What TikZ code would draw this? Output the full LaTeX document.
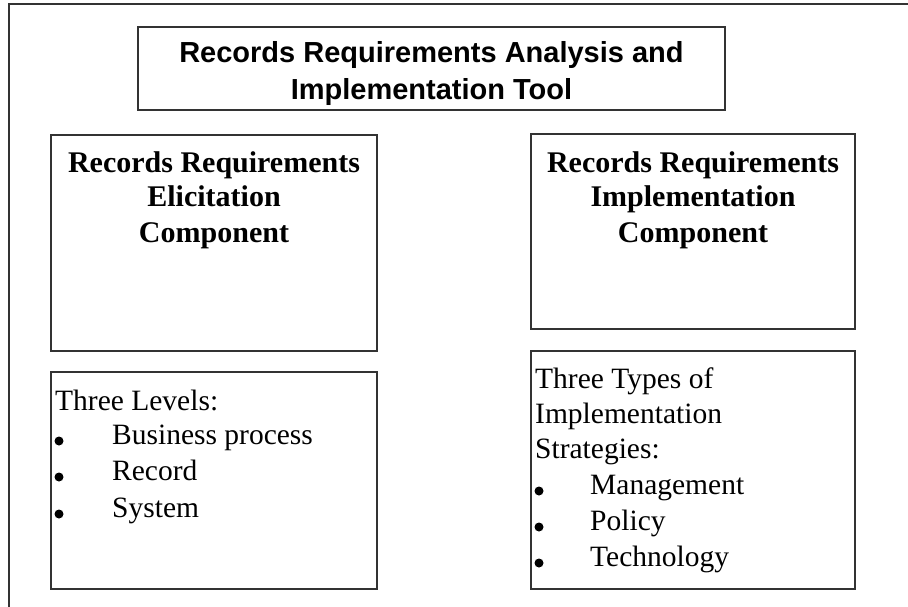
\documentclass[tikz,border=0pt]{standalone}
\usepackage{fontspec}
\setmainfont{Liberation Serif}
\newfontfamily\titlefont{Liberation Sans}
\begin{document}
\begin{tikzpicture}[x=1pt,y=-1pt,
  frameline/.style={line width=1.6pt,draw=black!80},
  box/.style={frameline,rectangle,inner sep=0pt,outer sep=0pt,anchor=north west},
  titletext/.style={inner sep=0pt,anchor=base,
    font=\titlefont\bfseries\fontsize{29}{37}\selectfont},
  headtext/.style={inner sep=0pt,anchor=base,
    font=\bfseries\fontsize{30}{35}\selectfont},
  listtext/.style={inner sep=0pt,anchor=base west,
    font=\fontsize{29.5}{36}\selectfont},
  dot/.style={circle,fill=black,inner sep=0pt,minimum size=9pt}]
  \useasboundingbox (0,0) rectangle (908,607);
  \fill[white] (0,0) rectangle (908,607);

  % outer frame (only top and left edges are visible)
  \coordinate (frameTR) at (908,4);
  \coordinate (frameTL) at (9,4);
  \coordinate (frameBL) at (9,607);
  \draw[frameline] (frameTR) -- (frameTL) -- (frameBL);

  % title
  \node[box,minimum width=587pt,minimum height=83pt] (titlebox) at (138,27) {};
  \node[titletext] (title1) at (431.5,63) {Records Requirements Analysis and};
  \node[titletext] (title2) at (431.5,100) {Implementation Tool};

  % elicitation component
  \node[box,minimum width=326pt,minimum height=216pt] (elicit) at (51,135) {};
  \node[headtext] (elicitHead1) at (214,172) {Records Requirements};
  \node[headtext] (elicitHead2) at (214,207) {Elicitation};
  \node[headtext] (elicitHead3) at (214,242) {Component};

  \node[box,minimum width=326pt,minimum height=217pt] (levels) at (51,372) {};
  \node[listtext] (levelsHead) at (55,410) {Three Levels:};
  \node[dot] (b1) at (59,441) {};
  \node[dot] (b2) at (59,477) {};
  \node[dot] (b3) at (59,514) {};
  \node[listtext] (l1) at (112,444) {Business process};
  \node[listtext] (l2) at (112,480) {Record};
  \node[listtext] (l3) at (112,517) {System};

  % implementation component
  \node[box,minimum width=324pt,minimum height=195pt] (impl) at (531,134) {};
  \node[headtext] (implHead1) at (693,172) {Records Requirements};
  \node[headtext] (implHead2) at (693,207) {Implementation};
  \node[headtext] (implHead3) at (693,242) {Component};

  \node[box,minimum width=324pt,minimum height=238pt] (types) at (531,351) {};
  \node[listtext] (typesHead1) at (535,388) {Three Types of};
  \node[listtext] (typesHead2) at (535,423) {Implementation};
  \node[listtext] (typesHead3) at (535,458) {Strategies:};
  \node[dot] (c1) at (539,491) {};
  \node[dot] (c2) at (539,527) {};
  \node[dot] (c3) at (539,563) {};
  \node[listtext] (t1) at (590,494) {Management};
  \node[listtext] (t2) at (590,530) {Policy};
  \node[listtext] (t3) at (590,566) {Technology};
\end{tikzpicture}
\end{document}
